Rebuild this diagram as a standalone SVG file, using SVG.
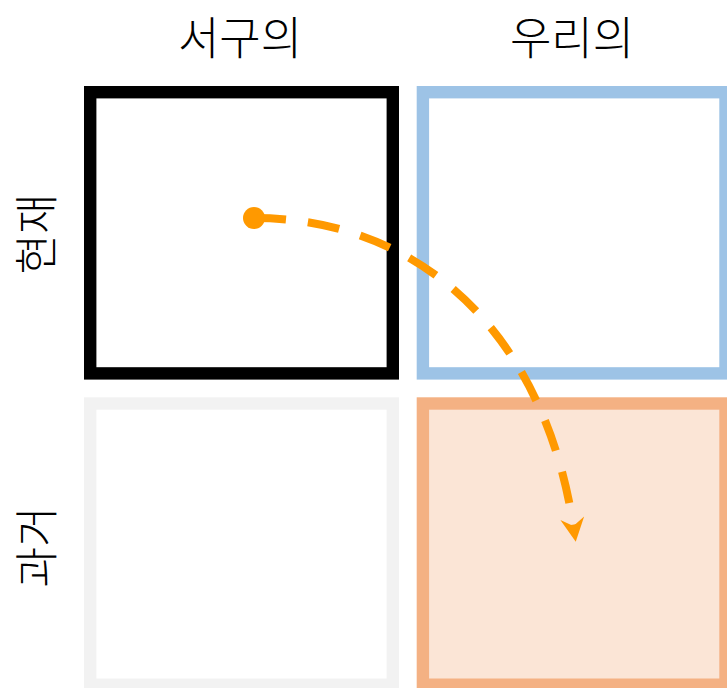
<svg xmlns="http://www.w3.org/2000/svg" width="727" height="688" viewBox="0 0 727 688">
  <style>
    .lbl { font-family: "Noto Sans CJK KR", "Noto Sans CJK SC", sans-serif; font-size: 44px; font-weight: 300; fill: #000; text-anchor: middle; }
    .top { font-size: 45px; }
    .box { stroke-width: 12.4; }
    .conn { fill: none; stroke: #FF9900; stroke-width: 8; stroke-dasharray: 32 22; }
  </style>
  <defs>
    <marker id="arrow" markerUnits="userSpaceOnUse" viewBox="-15 -15 30 30" markerWidth="30" markerHeight="30" refX="0" refY="0" orient="auto">
      <path d="M12,0 L-12,-12 L-4,0 L-12,12 Z" fill="#FF9900"/>
    </marker>
  </defs>
  <rect width="727" height="688" fill="#FFFFFF"/>

  <g id="col-western"><text class="lbl top" x="240" y="55">서구의</text></g>
  <g id="col-ours"><text class="lbl top" x="572" y="55">우리의</text></g>
  <g id="row-present"><text class="lbl" transform="translate(53,234) rotate(-90)" x="0" y="0">현재</text></g>
  <g id="row-past"><text class="lbl" transform="translate(53,547) rotate(-90)" x="0" y="0">과거</text></g>

  <g id="western-present"><rect class="box" x="90.2" y="92.2" width="302.6" height="281.2" fill="#FFFFFF" stroke="#000000"/></g>
  <g id="ours-present"><rect class="box" x="422.9" y="92.2" width="302.6" height="281.2" fill="#FFFFFF" stroke="#9DC3E6"/></g>
  <g id="western-past"><rect class="box" x="90.2" y="403.5" width="302.6" height="281.2" fill="#FFFFFF" stroke="#F2F2F2"/></g>
  <g id="ours-past"><rect class="box" x="422.9" y="403.5" width="302.6" height="281.2" fill="#FBE5D6" stroke="#F4B183"/></g>

  <g id="connectors">
    <circle cx="254" cy="218" r="11" fill="#FF9900"/>
    <path class="conn" d="M254,218 C420,218 545,333 574,530" marker-end="url(#arrow)"/>
  </g>
</svg>
